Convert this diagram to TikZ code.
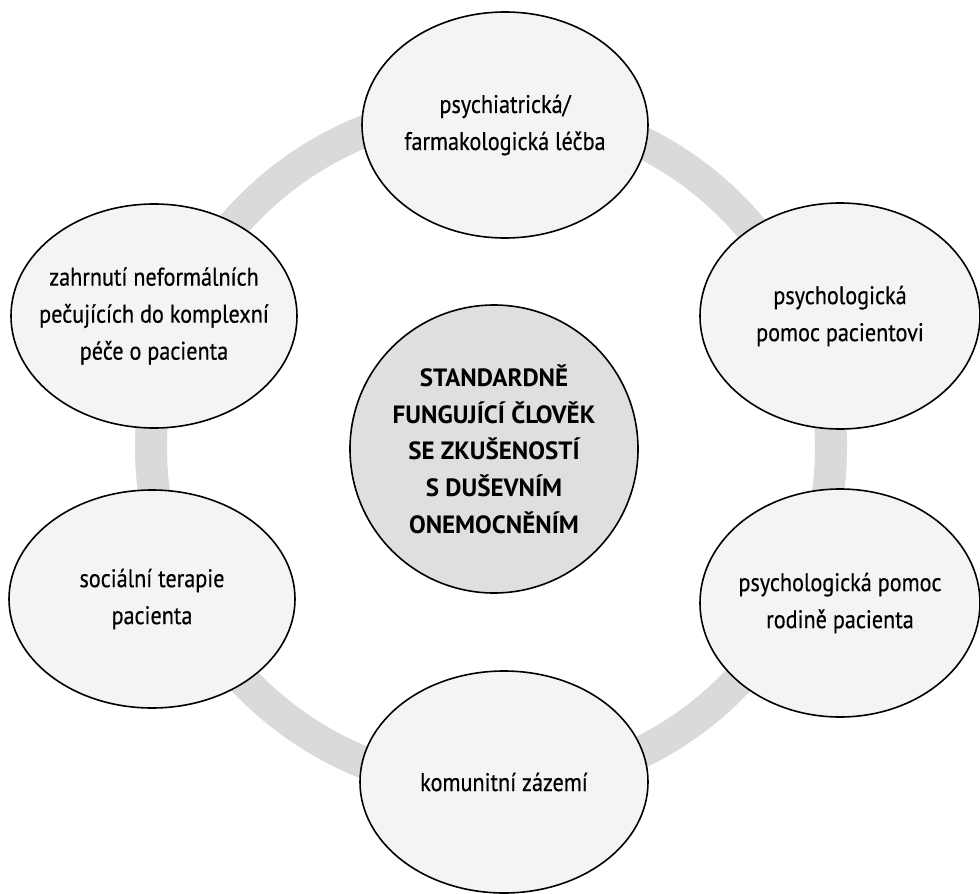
\documentclass[tikz,border=0pt]{standalone}
\usepackage{fontspec}
\setmainfont[FakeStretch=0.87,FakeBold=0.4]{PT Sans}
\newfontfamily\corefont[FakeStretch=1.0]{PT Sans}
\usetikzlibrary{shapes.geometric}
\definecolor{ringgray}{HTML}{D9DAD9}
\definecolor{ellfill}{HTML}{F4F4F4}
\definecolor{centerfill}{HTML}{DFDFDF}
\tikzset{
  outer/.style={ellipse, draw=black, line width=1.6pt, fill=ellfill, inner xsep=-30pt, inner ysep=0pt,
    align=center, font=\fontsize{25.5}{37}\selectfont, text=black},
  core/.style={circle, draw=black, line width=1.6pt, fill=centerfill, inner sep=0pt,
    minimum size=288pt, align=center, font=\corefont\fontsize{25}{36.7}\selectfont\bfseries, text=black},
  ring/.style={draw=ringgray, line width=32pt}
}
\begin{document}
\begin{tikzpicture}[x=1pt,y=-1pt]
\useasboundingbox[fill=white] (0,0) rectangle (980,894);
\coordinate (rc) at (491,447);
\draw[ring] (rc) circle[radius=340];
\node[outer, minimum width=286pt, minimum height=226pt] (top) at (505,125) {psychiatrická/\\farmakologická léčba};
\node[outer, minimum width=280pt, minimum height=226pt] (ru) at (840,316) {psychologická\\pomoc pacientovi};
\node[outer, minimum width=280pt, minimum height=228pt] (rl) at (840,603) {psychologická pomoc\\rodině pacienta};
\node[outer, minimum width=288pt, minimum height=222pt] (bot) at (504,782) {komunitní zázemí};
\node[outer, minimum width=286pt, minimum height=218pt] (ll) at (152,599) {sociální terapie\\pacienta};
\node[outer, minimum width=286pt, minimum height=224pt] (lu) at (154,316) {zahrnutí neformálních\\pečujících do komplexní\\péče o pacienta};
\node[core] (c) at (494,449) {STANDARDNĚ\\FUNGUJÍCÍ ČLOVĚK\\SE ZKUŠENOSTÍ\\S DUŠEVNÍM\\ONEMOCNĚNÍM};
\end{tikzpicture}
\end{document}
